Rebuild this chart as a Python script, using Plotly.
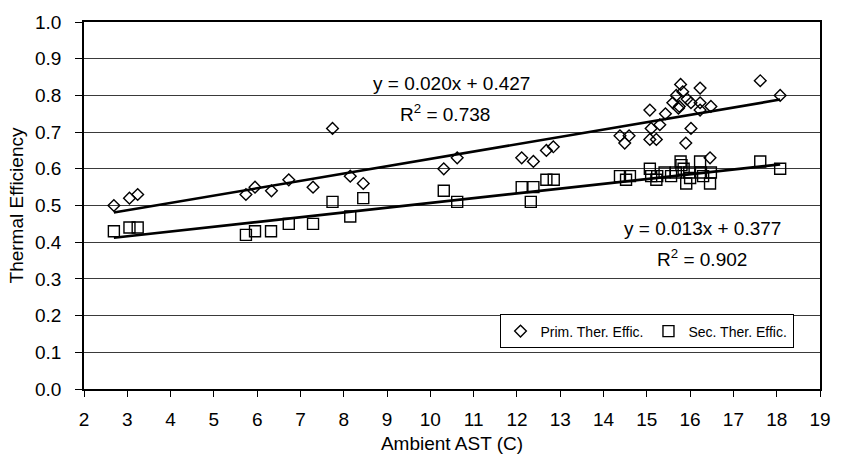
import plotly.graph_objects as go

# ---- data ----
prim_x = [2.69, 3.05, 3.24, 5.74, 5.95, 6.33, 6.73, 7.29, 7.74, 8.15, 8.45,
          10.31, 10.62, 12.11, 12.38, 12.68, 12.84,
          14.38, 14.59, 14.49, 15.07, 15.10, 15.30, 15.07, 15.22, 15.43, 15.60,
          15.68, 15.78, 15.83, 15.75, 15.73, 15.93, 16.02, 16.23, 16.23, 16.23,
          16.48, 16.02, 15.90, 16.46, 17.62, 18.08]
prim_y = [0.50, 0.52, 0.53, 0.53, 0.55, 0.54, 0.57, 0.55, 0.71, 0.58, 0.56,
          0.60, 0.63, 0.63, 0.62, 0.65, 0.66,
          0.69, 0.69, 0.67, 0.76, 0.71, 0.72, 0.68, 0.68, 0.75, 0.78,
          0.80, 0.83, 0.81, 0.77, 0.765, 0.79, 0.78, 0.82, 0.78, 0.76,
          0.77, 0.71, 0.67, 0.63, 0.84, 0.80]

sec_x = [2.69, 3.05, 3.24, 5.74, 5.95, 6.32, 6.73, 7.29, 7.74, 8.15, 8.45,
         10.31, 10.62, 12.11, 12.38, 12.32, 12.68, 12.85,
         14.38, 14.52, 14.61, 15.07, 15.10, 15.22, 15.24, 15.41, 15.56, 15.67,
         15.78, 15.80, 15.85, 15.91, 15.98, 16.00, 16.23, 16.25, 16.30, 16.46,
         16.48, 17.62, 18.08]
sec_y = [0.43, 0.44, 0.44, 0.42, 0.43, 0.43, 0.45, 0.45, 0.51, 0.47, 0.52,
         0.54, 0.51, 0.55, 0.55, 0.51, 0.57, 0.57,
         0.58, 0.57, 0.58, 0.60, 0.58, 0.57, 0.58, 0.59, 0.58, 0.59,
         0.62, 0.61, 0.60, 0.56, 0.59, 0.575, 0.62, 0.59, 0.58, 0.56,
         0.59, 0.62, 0.60]

# trend line coefficients as printed on the chart
prim_slope, prim_intercept, prim_r2 = 0.020, 0.427, 0.738
sec_slope, sec_intercept, sec_r2 = 0.013, 0.377, 0.902

x_ticks = list(range(2, 20))
y_ticks = [round(i * 0.1, 1) for i in range(11)]

FONT = "Liberation Sans, Arial, sans-serif"

fig = go.Figure()

fig.add_trace(go.Scatter(
    x=prim_x, y=prim_y, mode="markers", name="Prim. Ther. Effic.",
    marker=dict(symbol="diamond-open", size=9, color="black",
                line=dict(color="black", width=1.4)),
))
fig.add_trace(go.Scatter(
    x=sec_x, y=sec_y, mode="markers", name="Sec. Ther. Effic.",
    marker=dict(symbol="square-open", size=11, color="black",
                line=dict(color="black", width=1.4)),
))

def trend(xs, m, b):
    x0, x1 = min(xs), max(xs)
    return [x0, x1], [m * x0 + b, m * x1 + b]

tx, ty = trend(prim_x, prim_slope, prim_intercept)
fig.add_trace(go.Scatter(x=tx, y=ty, mode="lines", showlegend=False,
                         line=dict(color="black", width=2.6), hoverinfo="skip"))
tx, ty = trend(sec_x, sec_slope, sec_intercept)
fig.add_trace(go.Scatter(x=tx, y=ty, mode="lines", showlegend=False,
                         line=dict(color="black", width=2.6), hoverinfo="skip"))

ann_font = dict(family=FONT, size=19, color="black")
fig.add_annotation(x=10.49, y=0.832, xref="x", yref="y", showarrow=False,
                   text=f"y = {prim_slope:.3f}x + {prim_intercept:.3f}", font=ann_font)
fig.add_annotation(x=10.33, y=0.752, xref="x", yref="y", showarrow=False,
                   text=f"R<sup>2</sup> = {prim_r2:.3f}", font=ann_font)
fig.add_annotation(x=16.28, y=0.438, xref="x", yref="y", showarrow=False,
                   text=f"y = {sec_slope:.3f}x + {sec_intercept:.3f}", font=ann_font)
fig.add_annotation(x=16.28, y=0.356, xref="x", yref="y", showarrow=False,
                   text=f"R<sup>2</sup> = {sec_r2:.3f}", font=ann_font)

fig.update_layout(
    width=843, height=463,
    margin=dict(l=84, r=16, t=17, b=72),
    paper_bgcolor="white", plot_bgcolor="white",
    font=dict(family=FONT, size=19, color="black"),
    legend=dict(orientation="h", x=0.964, xanchor="right", y=0.203, yanchor="top",
                bgcolor="white", bordercolor="black", borderwidth=1,
                font=dict(family=FONT, size=14, color="black"),
                itemwidth=30, tracegroupgap=0),
)
fig.update_xaxes(
    range=[2, 19], tickvals=x_ticks, ticktext=[str(t) for t in x_ticks],
    showgrid=False, zeroline=False,
    showline=True, linecolor="black", linewidth=1.5, mirror=True,
    ticks="outside", ticklen=6, tickcolor="black", tickwidth=1,
    ticklabelstandoff=6,
    title=dict(text="Ambient AST (C)", font=dict(family=FONT, size=19), standoff=8),
)
fig.update_yaxes(
    range=[0, 1.0], tickvals=y_ticks, ticktext=[f"{t:.1f}" for t in y_ticks],
    showgrid=True, gridcolor="#3a3a3a", gridwidth=1, zeroline=False,
    showline=True, linecolor="black", linewidth=1.5, mirror=True,
    ticks="outside", ticklen=7, tickcolor="black", tickwidth=1,
    ticklabelstandoff=10,
    title=dict(text="Thermal Efficiency", font=dict(family=FONT, size=19), standoff=6),
)

fig.write_html("out.html",
               config={"displayModeBar": False},
               post_script="document.body.style.margin='0';document.body.style.overflow='hidden';")
